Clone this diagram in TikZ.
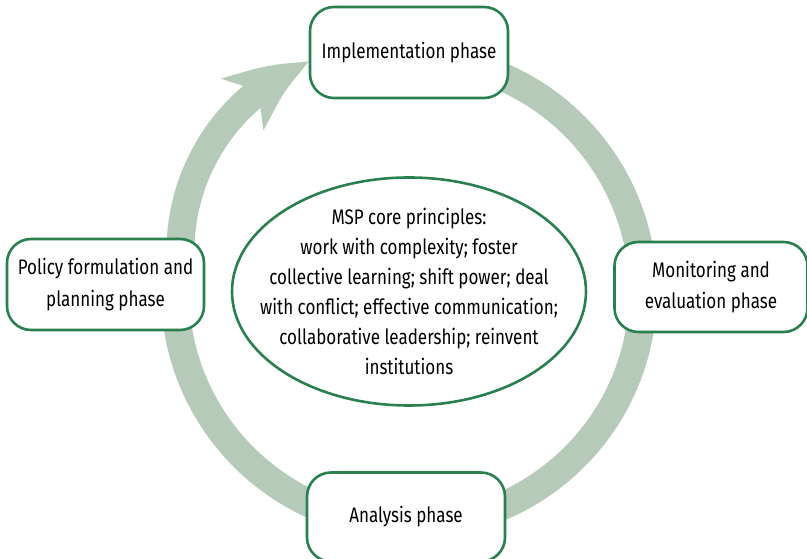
\documentclass[tikz,border=0pt]{standalone}
\usepackage{fontspec}
\setmainfont[FakeStretch=0.81]{Fira Sans}
\usetikzlibrary{arrows.meta,bending,shapes.geometric}
\definecolor{phasegreen}{RGB}{42,127,78}
\definecolor{ringsage}{RGB}{181,202,184}

\begin{document}
\begin{tikzpicture}[x=1pt, y=1pt,
        phase/.style={rectangle, rounded corners=24pt, draw=phasegreen, line width=2.6pt, fill=white, minimum width=198pt, minimum height=91pt, align=center, font=\fontsize{21}{31.5}\selectfont},
        core/.style={ellipse, draw=phasegreen, line width=2.6pt, minimum width=354pt, minimum height=228pt, inner xsep=-34pt, inner ysep=-14pt, align=center, font=\fontsize{21}{30}\selectfont},
        ring/.style={ringsage, line width=28pt},
        ringarrow/.style={ring, -{Stealth[length=80pt, width=64pt, inset=20pt, bend]}},
    ]
        \useasboundingbox (0, 0) rectangle (807, 559);

        % core principles in the middle
        \node[core] (msp) at (409, 267.5) {MSP core principles:\\work with complexity; foster\\collective learning; shift power; deal\\with conflict; effective communication;\\collaborative leadership; reinvent\\institutions};

        % cycle band behind the phases
        \coordinate (pivot) at (382.5, 308);
        \draw[ring] ([shift={(80:234)}]msp.center) arc[start angle=80, end angle=-182, radius=234];
        \draw[ringarrow] ([shift={(186:202)}]pivot) arc[start angle=186, end angle=111, radius=202];

        % phases
        \node[phase] (impl) at (409, 506.5) {Implementation phase};
        \node[phase, minimum width=193pt, minimum height=90pt] (monitor) at (711, 272) {Monitoring and\\evaluation phase};
        \node[phase, minimum height=89pt] (analysis) at (406, 42) {Analysis phase};
        \node[phase, minimum width=197pt] (policy) at (105.5, 274.5) {Policy formulation and\\planning phase};
    \end{tikzpicture}
\end{document}
